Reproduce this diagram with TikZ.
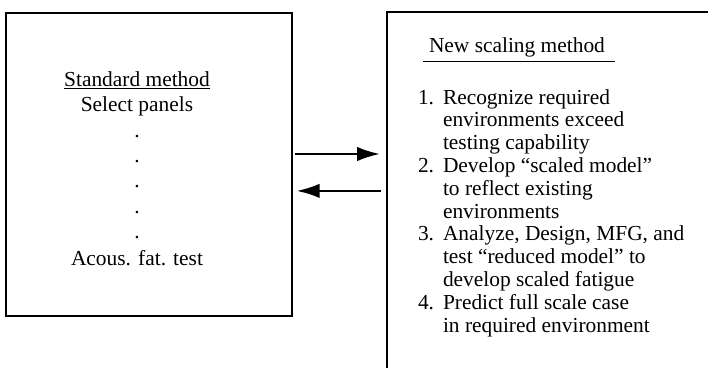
\documentclass[tikz,border=0pt]{standalone}
\usepackage{fontspec}
\setmainfont{Liberation Serif}
\usetikzlibrary{arrows.meta}
\begin{document}
\begin{tikzpicture}[x=1pt,y=-1pt,
  every node/.style={inner sep=0pt, outer sep=0pt, font=\fontsize{21.4}{23}\selectfont},
  boxline/.style={draw, line width=2.3pt},
  txt/.style={anchor=base},
  item/.style={anchor=base west},
  uline/.style={line width=1.1pt},
  arr/.style={line width=2.2pt, -{Latex[length=23pt,width=14.5pt]}}]
\useasboundingbox (0,0) rectangle (708,367);
\clip (0,0) rectangle (708,367);
% boxes
\node[boxline, minimum width=285.7pt, minimum height=303pt] (std) at (148.85,164.2) {};
\node[boxline, minimum width=360pt, minimum height=400pt, anchor=north west] (new) at (387,12) {};
% left box text
\node[txt] (t1) at (137,86) {Standard method};
\draw[uline] ([yshift=-2.3pt]t1.base west) -- ([yshift=-2.3pt]t1.base east);
\node[txt] (t2) at (137,111.5) {Select panels};
\node[txt] (d1) at (137,137.3) {.};
\node[txt] (d2) at (137,162.6) {.};
\node[txt] (d3) at (137,187.9) {.};
\node[txt] (d4) at (137,213.2) {.};
\node[txt] (d5) at (137,238.5) {.};
\node[txt] (t3) at (137,265) {Acous. fat. test};
% right box text
\node[item] (n0) at (429,52) {New scaling method};
\draw[uline] ([xshift=-6pt,yshift=-9.5pt]n0.base west) -- ([xshift=10pt,yshift=-9.5pt]n0.base east);
\node[item] (k1) at (418,104) {1.};
\node[item] (l1) at (443,104) {Recognize required};
\node[item] (l2) at (443,126.8) {environments exceed};
\node[item] (l3) at (443,149.6) {testing capability};
\node[item] (k2) at (418,172.4) {2.};
\node[item] (l4) at (443,172.4) {Develop “scaled model”};
\node[item] (l5) at (443,195.2) {to reflect existing};
\node[item] (l6) at (443,218) {environments};
\node[item] (k3) at (418,240.8) {3.};
\node[item] (l7) at (443,240.8) {Analyze, Design, MFG, and};
\node[item] (l8) at (443,263.6) {test “reduced model” to};
\node[item] (l9) at (443,286.4) {develop scaled fatigue};
\node[item] (k4) at (418,309.2) {4.};
\node[item] (l10) at (443,309.2) {Predict full scale case};
\node[item] (l11) at (443,332) {in required environment};
% arrows
\coordinate (a1) at ([yshift=10.2pt]std.east);
\coordinate (a2) at ([yshift=-26.7pt]std.east);
\draw[arr, shorten <=3pt, shorten >=7pt] (a1) -- (a1 -| new.west);
\draw[arr, shorten <=6pt, shorten >=5pt] (a2 -| new.west) -- (a2);
\end{tikzpicture}
\end{document}
